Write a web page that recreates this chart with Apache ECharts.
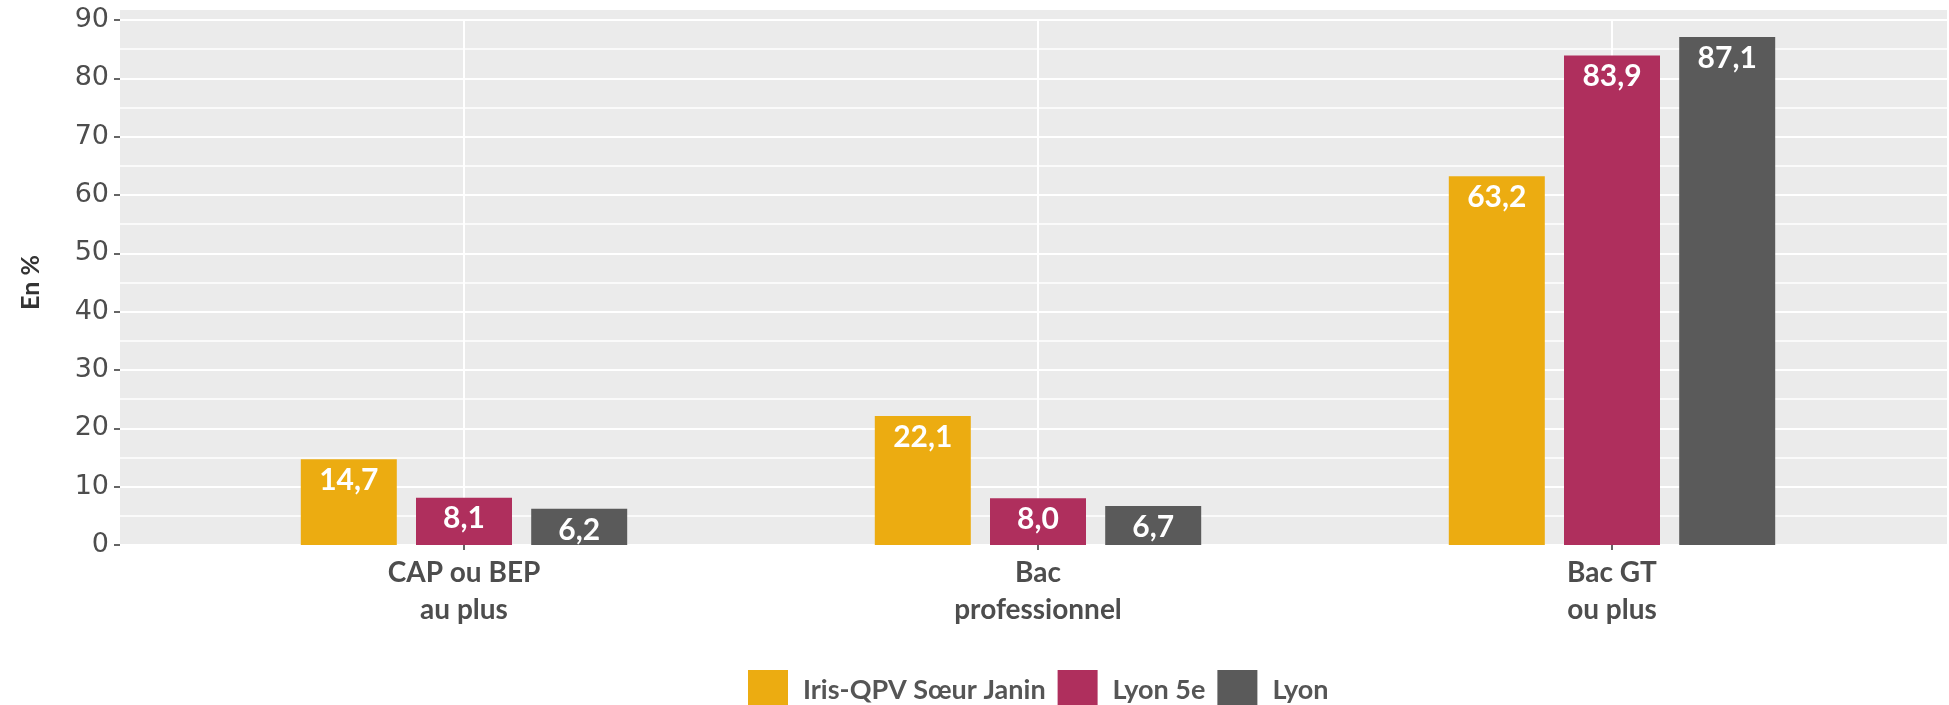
<!DOCTYPE html>
<html>
<head>
<meta charset="utf-8">
<script src="https://cdn.jsdelivr.net/npm/echarts@6/dist/echarts.min.js"></script>
<style>
  html, body { margin: 0; padding: 0; background: #fff; }
  #chart { width: 1949px; height: 705px; }
</style>
</head>
<body>
<div id="chart"></div>
<script>
// niveaux de diplome
const categories = ['CAP ou BEP\nau plus', 'Bac\nprofessionnel', 'Bac GT\nou plus'];
const irisValues = [14.7, 22.1, 63.2];
const lyon5Values = [8.1, 8.0, 83.9];
const lyonValues = [6.2, 6.7, 87.1];
const yTicks = [0, 10, 20, 30, 40, 50, 60, 70, 80, 90];

const FONT = 'Lato, "Open Sans", sans-serif';

function fmt(p) {
  return p.value.toFixed(1).replace('.', ',');
}

function barSeries(name, data, color) {
  return {
    name: name,
    type: 'bar',
    xAxisIndex: 2,
    yAxisIndex: 2,
    data: data,
    barWidth: 96,
    barGap: '20%',
    itemStyle: { color: color },
    label: {
      show: true,
      position: 'insideTop',
      distance: 6,
      color: '#fff',
      fontFamily: FONT,
      fontWeight: 'bold',
      fontSize: 30,
      formatter: fmt
    }
  };
}

let myChart = echarts.init(document.getElementById('chart'));
myChart.setOption({
  animation: false,
  grid: [
    // fond gris du panneau
    { left: 120, right: 2, top: 10, bottom: 160, show: true, backgroundColor: '#EBEBEB', borderWidth: 0 },
    // axe Y et lignes horizontales
    { left: 120, right: 2, top: 20, bottom: 160 },
    // barres
    { left: 177, width: 1722, top: 20, bottom: 160 }
  ],
  legend: {
    left: 743,
    top: 665,
    itemWidth: 40,
    itemHeight: 40,
    itemGap: 12,
    icon: 'rect',
    textStyle: { fontFamily: FONT, fontSize: 27, fontWeight: 'bold', color: '#555', padding: [0, 0, 0, 10] },
    data: ['Iris-QPV Sœur Janin', 'Lyon 5e', 'Lyon']
  },
  xAxis: [
    { gridIndex: 0, type: 'value', show: false },
    { gridIndex: 1, type: 'value', show: false },
    {
      gridIndex: 2,
      type: 'category',
      data: categories,
      axisLine: { show: false },
      axisTick: { show: true, alignWithLabel: true, length: 5, lineStyle: { color: '#333', width: 1.5 } },
      axisLabel: {
        margin: 9,
        fontFamily: FONT,
        fontWeight: 'bold',
        fontSize: 28,
        lineHeight: 37,
        color: '#4D4D4D'
      },
      splitLine: { show: true, alignWithLabel: true, lineStyle: { color: '#fff', width: 2 } }
    }
  ],
  yAxis: [
    { gridIndex: 0, type: 'value', show: false },
    {
      gridIndex: 1,
      type: 'value',
      min: 0,
      max: 90,
      interval: 10,
      name: 'En %',
      nameLocation: 'middle',
      nameGap: 77,
      nameTextStyle: { fontFamily: FONT, fontWeight: 'bold', fontSize: 25, color: '#333' },
      axisLine: { show: false },
      axisTick: { show: true, length: 6, lineStyle: { color: '#333', width: 1.5 } },
      axisLabel: {
        margin: 11,
        fontFamily: '"DejaVu Sans", sans-serif',
        fontSize: 27,
        color: '#4D4D4D',
        customValues: yTicks
      },
      splitLine: { show: true, lineStyle: { color: '#fff', width: 2 } },
      minorTick: { show: false, splitNumber: 2 },
      minorSplitLine: { show: true, lineStyle: { color: '#fff', width: 1.5 } }
    },
    { gridIndex: 2, type: 'value', min: 0, max: 90, show: false }
  ],
  series: [
    barSeries('Iris-QPV Sœur Janin', irisValues, '#ECAC11'),
    barSeries('Lyon 5e', lyon5Values, '#AF2F5D'),
    barSeries('Lyon', lyonValues, '#5A5A5A')
  ]
});
</script>
</body>
</html>
